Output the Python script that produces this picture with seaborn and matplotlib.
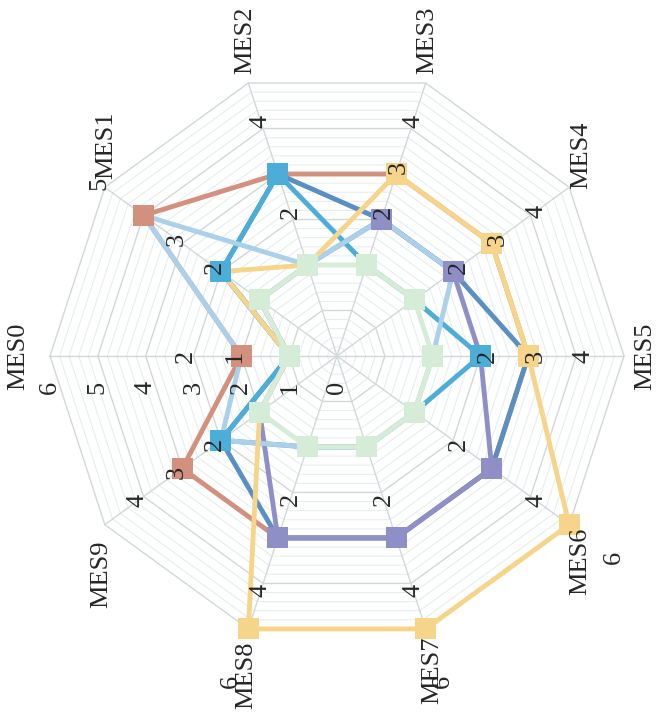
import numpy as np
import pandas as pd
import matplotlib
matplotlib.use('Agg')
import matplotlib.pyplot as plt
import seaborn as sns

# Categories around the radar (clockwise from the left)
categories = ['MES0', 'MES1', 'MES2', 'MES3', 'MES4', 'MES5', 'MES6', 'MES7', 'MES8', 'MES9']

# Series values
vals_pink = [2, 5, 4, 4, 4, 4, 4, 4, 4, 4]
vals_steel = [1, 3, 4, 3, 3, 4, 4, 4, 4, 3]
vals_purple = [1, 2, 2, 3, 3, 3, 4, 4, 4, 2]
vals_blue = [1, 3, 4, 2, 2, 3, 2, 2, 2, 3]
vals_lightblue = [2, 5, 2, 3, 3, 2, 2, 2, 2, 3]
vals_yellow = [1, 3, 2, 4, 4, 4, 6, 6, 6, 2]
vals_green = [1, 2, 2, 2, 2, 2, 2, 2, 2, 2]

palette = {'pink': '#d4907e', 'steel': '#5a8fc4', 'purple': '#8f8fc8', 'blue': '#4cadd9',
           'lightblue': '#aad0ea', 'yellow': '#f6d58b', 'green': '#d5ecd6'}
line_order = ['pink', 'steel', 'purple', 'blue', 'lightblue', 'yellow', 'green']
marker_order = ['steel', 'lightblue', 'pink', 'purple', 'yellow', 'blue', 'green']

# Radial tick labels on the first axis, and the small labels on each axis
r_ticks = [0, 1, 2, 3, 4, 5, 6]
axis_labels = [
    ['1', '2'],
    ['2', '3', '5'],
    ['2', '4'],
    ['2', '3', '4'],
    ['2', '3', '4'],
    ['2', '3', '4'],
    ['2', '4', '6'],
    ['2', '4', '6'],
    ['2', '4', '6'],
    ['2', '3', '4'],
]

# where each category label sits relative to its outer vertex (pixels)
label_offsets = [(-32, 0), (1, 42), (-3, 43), (2, 43), (12, 32),
                 (21, 0), (11, -37), (7, -41), (-2, -46), (-4, -50)]

sns.set_theme(style='white')
serif = ['Liberation Serif', 'DejaVu Serif']
plt.rcParams['font.family'] = serif

n = len(categories)
angles = np.linspace(0, 2 * np.pi, n, endpoint=False)
closed = np.append(angles, 2 * np.pi)

series = {'pink': vals_pink, 'steel': vals_steel, 'purple': vals_purple, 'blue': vals_blue,
          'lightblue': vals_lightblue, 'yellow': vals_yellow, 'green': vals_green}

# long tables for seaborn: closed loops for lines, points for markers
rows = []
for name in line_order:
    vals = series[name]
    for th, v in zip(closed, list(vals) + [vals[0]]):
        rows.append({'series': name, 'theta': th, 'value': v})
df_lines = pd.DataFrame(rows)

rows = []
for name in marker_order:
    for th, v in zip(angles, series[name]):
        rows.append({'series': name, 'theta': th, 'value': v})
df_pts = pd.DataFrame(rows)

fig = plt.figure(figsize=(6.64, 7.18), dpi=100)
ax = fig.add_axes([0.0753, 0.1045, 0.8645, 0.7994], projection='polar')
ax.set_theta_zero_location('W')
ax.set_theta_direction(-1)

# polygon grid: fine rings, integer rings and spokes
for r in np.arange(0.2, 6.0, 0.2):
    if abs(r - round(r)) > 1e-6:
        ax.plot(closed, [r] * len(closed), color='#e4ecee', lw=0.7, zorder=0)
for r in range(1, 7):
    ax.plot(closed, [r] * len(closed), color='#d2d8da', lw=1.0, zorder=0.5)
for a in angles:
    ax.plot([a, a], [0, 6], color='#d2d8da', lw=1.0, zorder=0.5)

sns.lineplot(data=df_lines, x='theta', y='value', hue='series', hue_order=line_order,
             palette=palette, sort=False, estimator=None, linewidth=3.5,
             legend=False, ax=ax)
sns.scatterplot(data=df_pts, x='theta', y='value', hue='series', palette=palette,
                marker='s', s=230, linewidth=0, legend=False, zorder=3, ax=ax)
for line in ax.lines:
    line.set_clip_on(False)
for coll in ax.collections:
    coll.set_clip_on(False)

ax.set_ylim(0, 6)
ax.set_xticks([])
ax.set_yticks([])
ax.grid(False)
ax.spines['polar'].set_visible(False)
ax.set_xlabel('')
ax.set_ylabel('')

fs = 19
for v in r_ticks:
    ax.annotate(str(v), xy=(0, v), xytext=(0, -31), textcoords='offset pixels',
                rotation=90, ha='center', va='center', fontsize=fs, family=serif)
for i, labs in enumerate(axis_labels):
    for lab in labs:
        ax.text(angles[i], int(lab) + 1.15, lab, rotation=90, ha='center', va='center',
                fontsize=fs, family=serif, zorder=5)
for a, c, off in zip(angles, categories, label_offsets):
    ax.annotate(c, xy=(a, 6), xytext=off, textcoords='offset pixels',
                rotation=90, ha='center', va='center', fontsize=fs, family=serif)

fig.savefig('out.png', dpi=100)
